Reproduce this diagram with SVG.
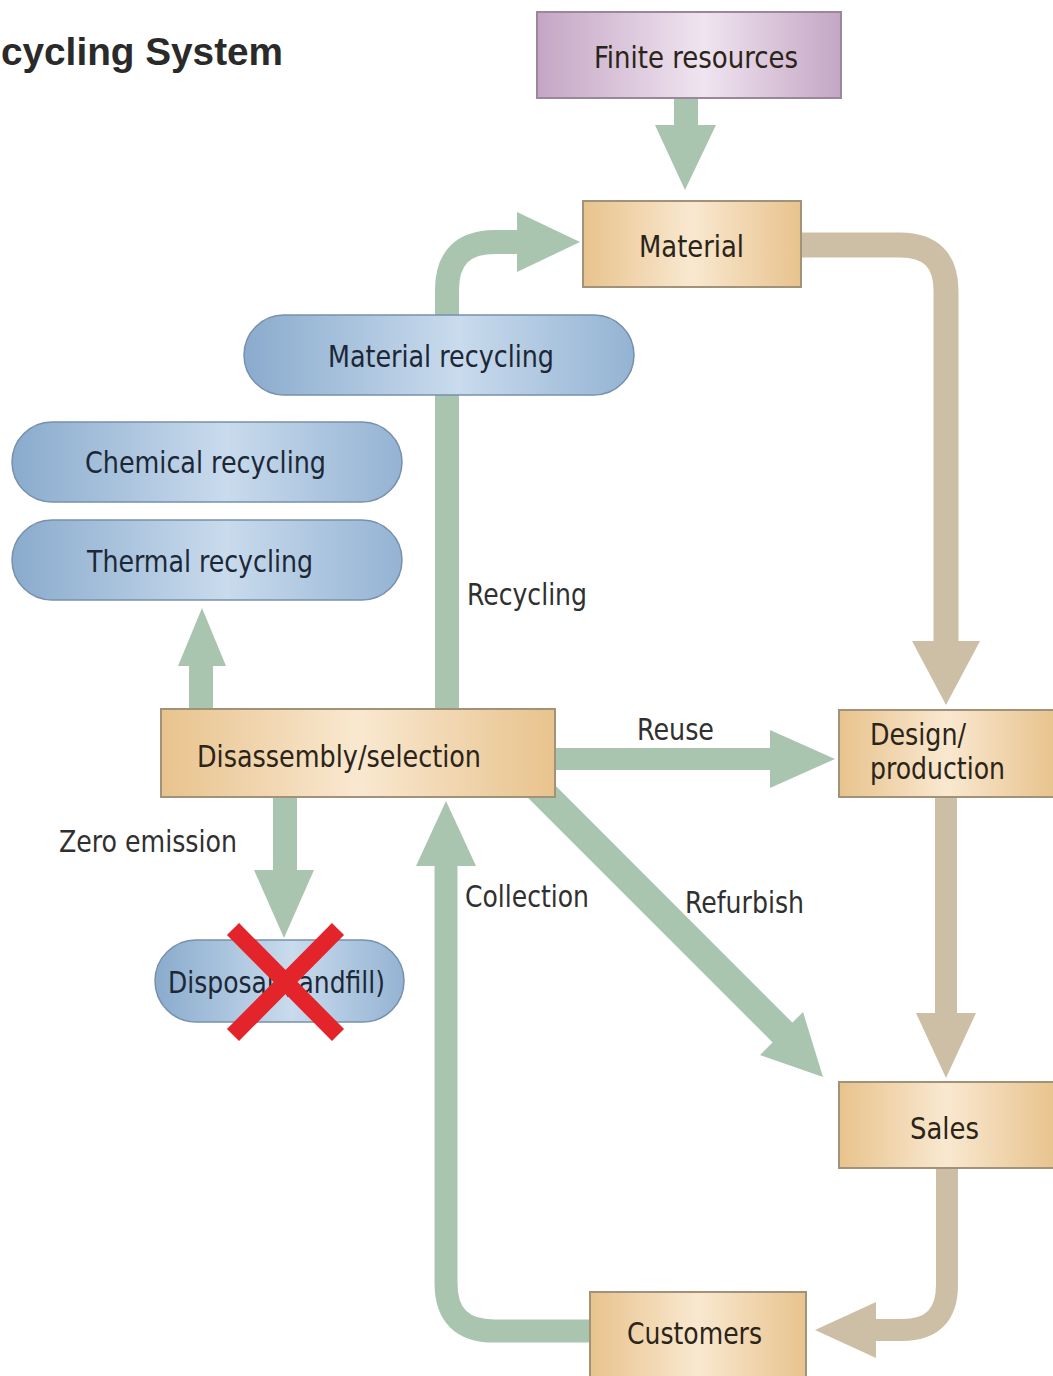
<svg xmlns="http://www.w3.org/2000/svg" width="1053" height="1376" viewBox="0 0 1053 1376">
<defs>
<linearGradient id="gTan" x1="0" y1="0" x2="1" y2="0">
<stop offset="0" stop-color="#e8c38d"/><stop offset="0.5" stop-color="#f9e8d0"/><stop offset="1" stop-color="#e8c38d"/>
</linearGradient>
<linearGradient id="gBlue" x1="0" y1="0" x2="1" y2="0">
<stop offset="0" stop-color="#8aabcd"/><stop offset="0.55" stop-color="#c9dbed"/><stop offset="1" stop-color="#94b3d3"/>
</linearGradient>
<linearGradient id="gPurple" x1="0" y1="0" x2="1" y2="0">
<stop offset="0" stop-color="#c4a6c4"/><stop offset="0.55" stop-color="#f0e4f0"/><stop offset="1" stop-color="#c4a6c4"/>
</linearGradient>
<style>
.tan{fill:url(#gTan);stroke:#a3927a;stroke-width:2}
.blue{fill:url(#gBlue);stroke:#7890ab;stroke-width:1.5}
.purple{fill:url(#gPurple);stroke:#9a889a;stroke-width:2}
text{font-family:"Liberation Sans Narrow","DejaVu Sans Condensed","Liberation Sans",sans-serif;font-size:30px}
.bt{fill:#2b2418}
.pt{fill:#1c2836}
.lt{fill:#303030}
.gs{fill:none;stroke:#a9c5af}
.ts{fill:none;stroke:#cdbfa6}
.gh{fill:#a9c5af}
.th{fill:#cdbfa6}
</style>
</defs>
<rect width="1053" height="1376" fill="#ffffff"/>
<text x="1" y="65" style="font-family:'Liberation Sans',sans-serif;font-weight:bold;font-size:38px" fill="#2a2a2a" textLength="282" lengthAdjust="spacingAndGlyphs">cycling System</text>

<g id="connectors">
<!-- Finite resources -> Material -->
<path class="gs" stroke-width="24" d="M686,98 L686,128"/>
<polygon class="gh" points="655,125 716,125 685,190"/>
<!-- Recycling up to Material -->
<path class="gs" stroke-width="24" d="M447,710 L447,290 Q447,242 495,242 L520,242"/>
<polygon class="gh" points="517,212 580,242 517,272"/>
<!-- Material -> Design/production -->
<path class="ts" stroke-width="25" d="M800,245 L900,245 Q946,245 946,291 L946,645"/>
<polygon class="th" points="912,641 980,641 946,705"/>
<!-- Design -> Sales -->
<path class="ts" stroke-width="22" d="M946,797 L946,1016"/>
<polygon class="th" points="916,1013 976,1013 946,1078"/>
<!-- Sales -> Customers -->
<path class="ts" stroke-width="22" d="M947,1168 L947,1285 Q947,1330 902,1330 L872,1330"/>
<polygon class="th" points="876,1302 876,1358 815,1330"/>
<!-- Customers -> Disassembly (Collection) -->
<path class="gs" stroke-width="23" d="M592,1331 L494,1331 Q446,1331 446,1283 L446,862"/>
<polygon class="gh" points="416,866 476,866 446,801"/>
<!-- Disassembly -> Thermal recycling -->
<path class="gs" stroke-width="24" d="M201,708 L201,662"/>
<polygon class="gh" points="178,666 226,666 202,608"/>
<!-- Disassembly -> Disposal -->
<path class="gs" stroke-width="24" d="M285,797 L285,873"/>
<polygon class="gh" points="254,870 314,870 284,938"/>
<!-- Reuse -->
<path class="gs" stroke-width="22" d="M555,759 L773,759"/>
<polygon class="gh" points="770,730 770,788 835,759"/>
<!-- Refurbish -->
<path class="gs" stroke-width="28" d="M535,785 L792,1042"/>
<polygon class="gh" points="760,1055 803,1012 823,1077"/>
</g>

<g id="node-finite">
<rect class="purple" x="537" y="12" width="304" height="86"/>
<text class="bt" x="594" y="68" textLength="204" lengthAdjust="spacingAndGlyphs" fill="#2e2a32">Finite resources</text>
</g>
<g id="node-material">
<rect class="tan" x="583" y="201" width="218" height="86"/>
<text class="bt" x="639" y="257" textLength="105" lengthAdjust="spacingAndGlyphs">Material</text>
</g>
<g id="node-material-recycling">
<rect class="blue" x="244" y="315" width="390" height="80" rx="40"/>
<text class="pt" x="328" y="367" textLength="226" lengthAdjust="spacingAndGlyphs">Material recycling</text>
</g>
<g id="node-chemical-recycling">
<rect class="blue" x="12" y="422" width="390" height="80" rx="40"/>
<text class="pt" x="85" y="473" textLength="241" lengthAdjust="spacingAndGlyphs">Chemical recycling</text>
</g>
<g id="node-thermal-recycling">
<rect class="blue" x="12" y="520" width="390" height="80" rx="40"/>
<text class="pt" x="87" y="572" textLength="226" lengthAdjust="spacingAndGlyphs">Thermal recycling</text>
</g>
<g id="node-disassembly">
<rect class="tan" x="161" y="709" width="394" height="88"/>
<text class="bt" x="197" y="767" textLength="284" lengthAdjust="spacingAndGlyphs">Disassembly/selection</text>
</g>
<g id="node-design">
<rect class="tan" x="839" y="710" width="216" height="87"/>
<text class="bt" x="870" y="745" textLength="96" lengthAdjust="spacingAndGlyphs">Design/</text>
<text class="bt" x="870" y="779" textLength="135" lengthAdjust="spacingAndGlyphs">production</text>
</g>
<g id="node-disposal">
<rect class="blue" x="155" y="940" width="249" height="82" rx="41"/>
<text class="pt" x="168" y="993" textLength="217" lengthAdjust="spacingAndGlyphs">Disposal (landfill)</text>
<path d="M233,929 L338,1035 M338,929 L233,1035" stroke="#e3242b" stroke-width="17" fill="none"/>
</g>
<g id="node-sales">
<rect class="tan" x="839" y="1082" width="216" height="86"/>
<text class="bt" x="910" y="1139" textLength="69" lengthAdjust="spacingAndGlyphs">Sales</text>
</g>
<g id="node-customers">
<rect class="tan" x="590" y="1292" width="216" height="86"/>
<text class="bt" x="627" y="1344" textLength="135" lengthAdjust="spacingAndGlyphs">Customers</text>
</g>

<g id="labels">
<text class="lt" x="467" y="605" textLength="120" lengthAdjust="spacingAndGlyphs">Recycling</text>
<text class="lt" x="637" y="740" textLength="77" lengthAdjust="spacingAndGlyphs">Reuse</text>
<text class="lt" x="59" y="852" textLength="178" lengthAdjust="spacingAndGlyphs">Zero emission</text>
<text class="lt" x="465" y="907" textLength="124" lengthAdjust="spacingAndGlyphs">Collection</text>
<text class="lt" x="685" y="913" textLength="119" lengthAdjust="spacingAndGlyphs">Refurbish</text>
</g>
</svg>
